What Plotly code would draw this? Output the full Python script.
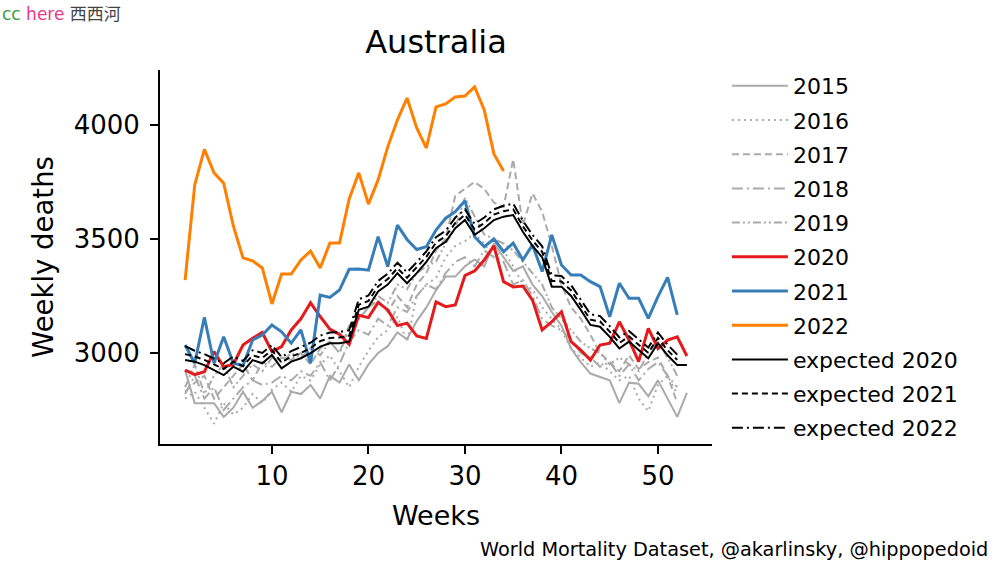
import plotly.graph_objects as go

weeks53 = list(range(1, 54))
weeks52 = list(range(1, 53))
weeks34 = list(range(1, 35))

y2015 = [2925, 2780, 2780, 2780, 2720, 2760, 2830, 2760, 2790, 2830, 2740, 2830, 2820, 2860, 2800,
         2900, 2870, 2950, 2880, 2950, 3000, 3030, 3090, 3060, 3140, 3200, 3275, 3335, 3335, 3380,
         3410, 3380, 3480, 3420, 3360, 3380, 3300, 3250, 3180, 3120, 3020, 2960, 2910, 2895, 2880,
         2780, 2870, 2865, 2810, 2880, 2800, 2720, 2825]
y2016 = [2800, 2830, 2760, 2690, 2780, 2730, 2760, 2820, 2780, 2840, 2870, 2830, 2900, 2880, 2950,
         2990, 2920, 2850, 2940, 3010, 3070, 3100, 3160, 3050, 3250, 3300, 3330, 3420, 3470, 3490,
         3525, 3480, 3420, 3450, 3380, 3300, 3280, 3200, 3150, 3100, 3020, 2980, 2940, 2960, 2920,
         2880, 2900, 2800, 2745, 2860, 2900, 2820]
y2017 = [2830, 2870, 2900, 2800, 2850, 2900, 2950, 2880, 2960, 2940, 2980, 2970, 3000, 2950, 3020,
         3050, 3000, 3120, 3150, 3200, 3230, 3180, 3250, 3200, 3300, 3350, 3450, 3500, 3690, 3720,
         3750, 3720, 3660, 3640, 3850, 3560, 3700, 3620, 3470, 3300, 3200, 3150, 3080, 3000, 2960,
         2920, 2990, 2930, 2960, 2980, 2900, 2780]
y2018 = [2820, 2900, 2800, 2850, 2750, 2800, 2850, 2880, 2860, 2870, 2900, 2880, 2920, 2900, 2960,
         2880, 2950, 3050, 3100, 3080, 3150, 3120, 3200, 3180, 3250, 3300, 3280, 3350, 3400, 3420,
         3380, 3450, 3420, 3400, 3300, 3320, 3250, 3150, 3120, 3100, 3060, 3000, 2980, 2940, 2960,
         2900, 2950, 2880, 2930, 2960, 2900, 2850]
y2019 = [2850, 2950, 2820, 2900, 2950, 2850, 2900, 2950, 2920, 2980, 2960, 3000, 2980, 3020, 2990,
         3050, 3000, 3100, 3150, 3200, 3250, 3220, 3300, 3280, 3350, 3380, 3400, 3480, 3550, 3680,
         3600, 3520, 3500, 3480, 3450, 3400, 3350, 3300, 3200, 3150, 3100, 3050, 3020, 3000, 2950,
         2980, 2950, 2920, 3000, 3050, 2980, 2900]
y2020 = [2925, 2905, 2918, 3006, 2940, 2950, 3035, 3065, 3090, 3006, 3028, 3101, 3150, 3220, 3160,
         3105, 3082, 3038, 3165, 3155, 3222, 3189, 3120, 3131, 3075, 3064, 3224, 3203, 3211, 3340,
         3360, 3408, 3470, 3313, 3290, 3294, 3232, 3101, 3137, 3181, 3050, 3013, 2969, 3035, 3043,
         3137, 3057, 2962, 3108, 3020, 3057, 3071, 2987]
y2021 = [3035, 2955, 3157, 2955, 3071, 2955, 2945, 3057, 3079, 3123, 3093, 3043, 3101, 2955, 3254,
         3244, 3276, 3367, 3368, 3363, 3510, 3379, 3561, 3498, 3454, 3466, 3539, 3591, 3620, 3668,
         3510, 3466, 3500, 3444, 3482, 3408, 3474, 3357, 3518, 3386, 3342, 3342, 3313, 3291, 3159,
         3306, 3240, 3240, 3152, 3247, 3332, 3167]
y2022 = [3320, 3737, 3893, 3790, 3745, 3557, 3417, 3404, 3373, 3215, 3346, 3346, 3408, 3447, 3373,
         3482, 3482, 3675, 3790, 3653, 3759, 3904, 4022, 4118, 3987, 3899, 4079, 4092, 4123, 4127,
         4167, 4066, 3873, 3798]
exp2020 = [2969, 2962, 2947, 2925, 2903, 2940, 2918, 2969, 2955, 2991, 2933, 2962, 2977, 2999, 3028,
           3043, 3043, 3050, 3190, 3203, 3270, 3300, 3350, 3306, 3350, 3400, 3460, 3488, 3547, 3583,
           3518, 3547, 3583, 3598, 3605, 3532, 3470, 3420, 3291, 3291, 3250, 3189, 3123, 3115, 3071,
           3020, 3050, 3013, 2977, 3043, 2990, 2947, 2947]
exp2021 = [2995, 2985, 2970, 2950, 2930, 2962, 2942, 2990, 2978, 3012, 2958, 2985, 3000, 3022, 3052,
           3066, 3068, 3075, 3212, 3228, 3292, 3324, 3372, 3330, 3374, 3422, 3484, 3512, 3570, 3607,
           3542, 3570, 3607, 3622, 3630, 3556, 3494, 3444, 3316, 3314, 3274, 3212, 3146, 3138, 3094,
           3044, 3073, 3036, 3001, 3066, 3012, 2970]
exp2022 = [3030, 3010, 2995, 2975, 2955, 2985, 2965, 3012, 3000, 3035, 2982, 3008, 3025, 3045, 3076,
           3090, 3092, 3100, 3236, 3252, 3316, 3348, 3396, 3354, 3398, 3446, 3508, 3536, 3594, 3630,
           3566, 3594, 3630, 3646, 3655, 3580, 3518, 3468, 3340, 3338, 3298, 3236, 3170, 3162, 3118,
           3068, 3097, 3060, 3024, 3090, 3036, 2993]

GREY = "#aaaaaa"
series = [
    ("2015", weeks53, y2015, GREY, 2, "solid"),
    ("2016", weeks52, y2016, GREY, 2, "2px,4px"),
    ("2017", weeks52, y2017, GREY, 2, "7px,4px"),
    ("2018", weeks52, y2018, GREY, 2, "11px,4px,2px,4px"),
    ("2019", weeks52, y2019, GREY, 2, "8px,3px,2px,3px,2px,3px"),
    ("2020", weeks53, y2020, "#e41a1c", 3, "solid"),
    ("2021", weeks52, y2021, "#377eb8", 3, "solid"),
    ("2022", weeks34, y2022, "#ff7f00", 3, "solid"),
    ("expected 2020", weeks53, exp2020, "black", 2, "solid"),
    ("expected 2021", weeks52, exp2021, "black", 2, "6px,4px"),
    ("expected 2022", weeks52, exp2022, "black", 2, "11px,4px,2px,4px"),
]

fig = go.Figure()
for name, x, y, color, w, dash in series:
    fig.add_trace(go.Scatter(x=x, y=y, mode="lines", name=name, legendgroup=name,
                             line=dict(color=color, width=w, dash=dash)))

FONT = "DejaVu Sans"
fig.update_layout(
    width=1000, height=562,
    margin=dict(l=160, r=288, t=70, b=118),
    paper_bgcolor="white", plot_bgcolor="white",
    font=dict(family=FONT, color="black"),
    title=dict(text="Australia", x=(160 + 712) / 2 / 1000, xanchor="center",
               y=1 - 42 / 562, yanchor="middle", font=dict(size=32, family=FONT)),
    showlegend=True,
    legend=dict(x=1.027, xanchor="left", y=1 + 5 / 374, yanchor="top",
                font=dict(size=22, family=FONT), maxheight=700,
                tracegroupgap=2.6, itemwidth=56, bgcolor="rgba(0,0,0,0)"),
    xaxis=dict(range=[-1.6, 55.6], tickvals=[10, 20, 30, 40, 50], showgrid=False, zeroline=False,
               showline=True, linecolor="black", linewidth=2, ticks="outside", ticklen=8,
               tickwidth=2, tickcolor="black", tickfont=dict(size=26, family=FONT),
               title=dict(text="Weeks", font=dict(size=27, family=FONT), standoff=16)),
    yaxis=dict(range=[2601, 4241], tickvals=[3000, 3500, 4000], showgrid=False, zeroline=False,
               showline=True, linecolor="black", linewidth=2, ticks="outside", ticklen=8,
               tickwidth=2, tickcolor="black", tickfont=dict(size=26, family=FONT),
               ticklabelstandoff=5,
               title=dict(text="Weekly deaths", font=dict(size=27.5, family=FONT), standoff=12)),
)

fig.add_annotation(
    text="<span style='color:#3a9a3a'>cc</span> <span style='color:#e8388a'>here</span> "
         "<span style='color:#444444;font-family:Noto Sans CJK SC'>西西河</span>",
    xref="paper", yref="paper", x=-160 / 552, y=1 + 58 / 374, xanchor="left", yanchor="middle",
    showarrow=False, font=dict(size=17, family=FONT))
fig.add_annotation(
    text="World Mortality Dataset, @akarlinsky, @hippopedoid",
    xref="paper", yref="paper", x=(990 - 160) / 552, y=-(549 - 444) / 374,
    xanchor="right", yanchor="middle", showarrow=False, font=dict(size=19.3, family=FONT))

fig.write_html("out.html")
